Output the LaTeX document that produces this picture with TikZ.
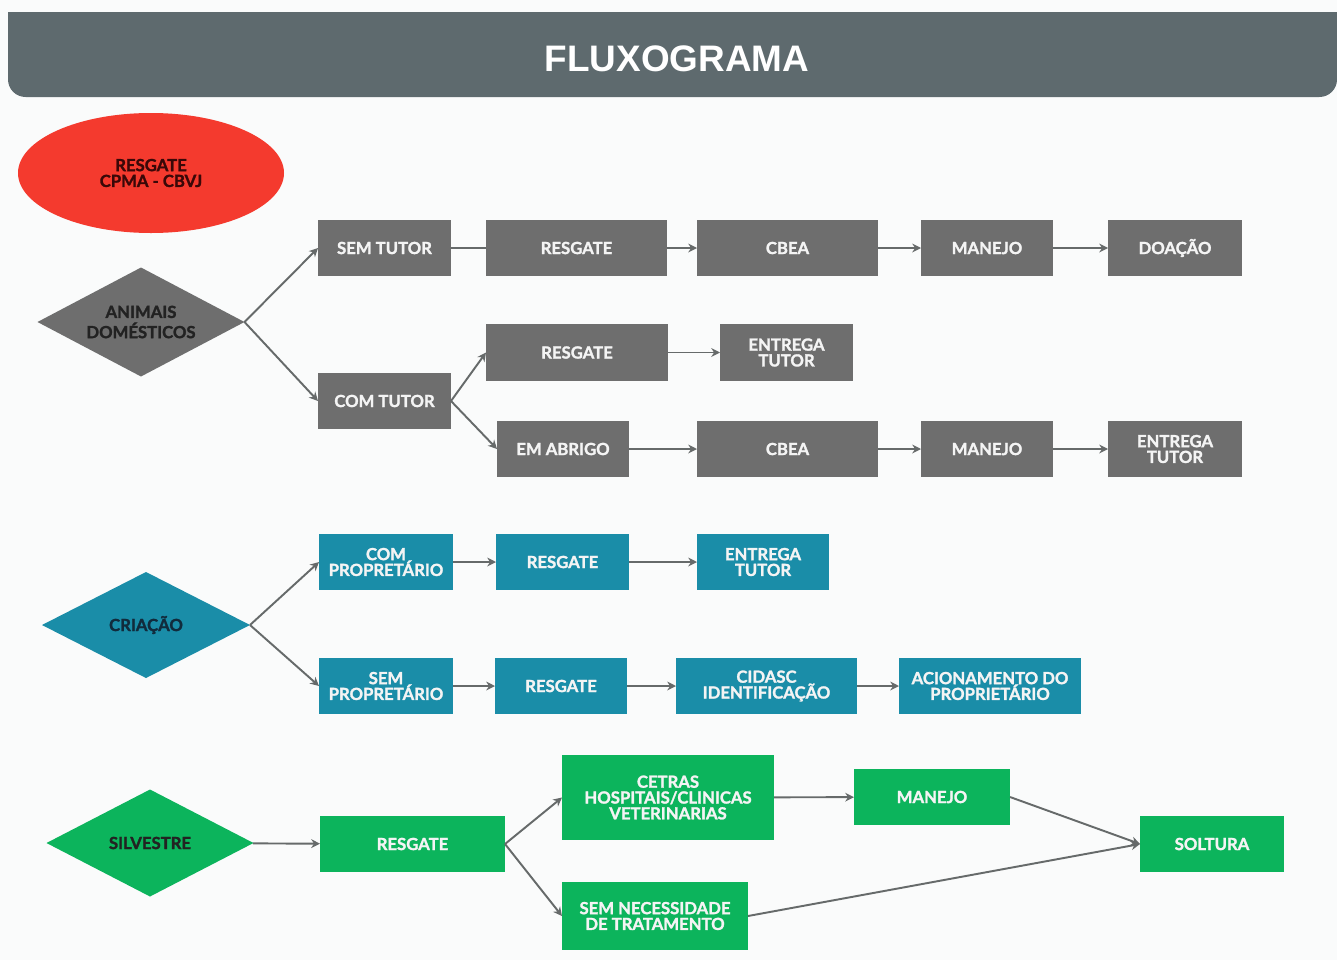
\documentclass[tikz,border=0pt]{standalone}
\usepackage{fontspec}
\setmainfont{Lato}[BoldFeatures={FakeBold=1.6}]
\newfontfamily\titlefont{Liberation Sans}
\usetikzlibrary{shapes.geometric,arrows.meta}
\definecolor{bgc}{HTML}{FAFBFB}
\definecolor{headc}{HTML}{5E6A6E}
\definecolor{greyc}{HTML}{6E6E6E}
\definecolor{tealc}{HTML}{1A8DA8}
\definecolor{greenc}{HTML}{0CB45C}
\definecolor{redc}{HTML}{F43A2E}
\definecolor{arrc}{HTML}{666A6A}
\definecolor{boxtxt}{HTML}{F4F4F4}
\definecolor{darktxt}{HTML}{222222}
\definecolor{navytxt}{HTML}{112B3C}
\definecolor{redtxt}{HTML}{3A0808}
\tikzset{
  boxst/.style={rectangle, inner sep=0pt, outer sep=0pt, align=center, text=boxtxt,
    font=\bfseries\fontsize{9.5}{9}\selectfont},
  dia/.style={diamond, aspect=2, inner sep=0pt, outer sep=0pt, align=center,
    font=\bfseries\fontsize{9.5}{11.5}\selectfont},
  arr/.style={draw=arrc, line width=1.1pt, -{Stealth[length=5pt,width=5pt]}},
  ln/.style={draw=arrc, line width=1.1pt},
}
\newcommand{\bx}[7]{\node[boxst, fill=#6, minimum width={(#4-#2)*0.02cm}, minimum height={(#5-#3)*0.02cm}] (#1) at ({(#2+#4)/2},{(#3+#5)/2}) {#7};}
\begin{document}
\begin{tikzpicture}[x=0.02cm, y=-0.02cm]
\useasboundingbox (0,0) rectangle (1337,960);
\fill[bgc] (0,0) rectangle (1337,960);
% header
\fill[headc] (8,12) -- (1337,12) {[rounded corners=10pt] -- (1337,97) -- (8,97)} -- cycle;
\node[font=\titlefont\bfseries\fontsize{21}{21}\selectfont, text=white] (title) at (677,59) {FLUXOGRAMA};
% start
\node[ellipse, fill=redc, inner sep=0pt, minimum width={266*0.02cm}, minimum height={120*0.02cm}, align=center, text=redtxt, font=\bfseries\fontsize{9.5}{9}\selectfont] (start) at (151,173) {RESGATE\\CPMA - CBVJ};
% diamonds
\node[dia, fill=greyc, text=darktxt, minimum width={207*0.02cm}, minimum height={109*0.02cm}] (dom) at (141,322) {ANIMAIS\\DOMÉSTICOS};
\node[dia, fill=tealc, text=navytxt, minimum width={208*0.02cm}, minimum height={106*0.02cm}] (cri) at (146,625) {CRIAÇÃO};
\node[dia, fill=greenc, text=darktxt, minimum width={207*0.02cm}, minimum height={107*0.02cm}] (sil) at (150,843) {SILVESTRE};
% domestic
\bx{semtutor}{318}{220}{451}{276}{greyc}{SEM TUTOR}
\bx{res1}{486}{220}{667}{276}{greyc}{RESGATE}
\bx{cbea1}{697}{220}{878}{276}{greyc}{CBEA}
\bx{man1}{921}{220}{1053}{276}{greyc}{MANEJO}
\bx{doa}{1108}{220}{1242}{276}{greyc}{DOAÇÃO}
\bx{comtutor}{318}{373}{451}{429}{greyc}{COM TUTOR}
\bx{res2}{486}{324}{668}{381}{greyc}{RESGATE}
\bx{ent1}{720}{324}{853}{381}{greyc}{ENTREGA\\TUTOR}
\bx{abrigo}{497}{421}{629}{477}{greyc}{EM ABRIGO}
\bx{cbea2}{697}{421}{878}{477}{greyc}{CBEA}
\bx{man2}{921}{421}{1053}{477}{greyc}{MANEJO}
\bx{ent2}{1108}{421}{1242}{477}{greyc}{ENTREGA\\TUTOR}
% criacao
\bx{comprop}{319}{534}{453}{590}{tealc}{COM\\PROPRETÁRIO}
\bx{res3}{496}{534}{629}{590}{tealc}{RESGATE}
\bx{ent3}{697}{534}{829}{590}{tealc}{ENTREGA\\TUTOR}
\bx{semprop}{319}{658}{453}{714}{tealc}{SEM\\PROPRETÁRIO}
\bx{res4}{495}{658}{627}{714}{tealc}{RESGATE}
\bx{cidasc}{676}{658}{857}{714}{tealc}{CIDASC\\IDENTIFICAÇÃO}
\bx{acion}{899}{658}{1081}{714}{tealc}{ACIONAMENTO DO\\PROPRIETÁRIO}
% silvestre
\bx{res5}{320}{816}{505}{872}{greenc}{RESGATE}
\bx{cetras}{562}{755}{774}{840}{greenc}{CETRAS\\HOSPITAIS/CLINICAS\\VETERINARIAS}
\bx{semnec}{562}{882}{748}{950}{greenc}{SEM NECESSIDADE\\DE TRATAMENTO}
\bx{man3}{854}{769}{1010}{825}{greenc}{MANEJO}
\bx{solt}{1140}{816}{1284}{872}{greenc}{SOLTURA}
% connectors
\draw[arr] (dom.east) -- (semtutor.west);
\draw[arr] (dom.east) -- (comtutor.west);
\draw[ln] (semtutor) -- (res1);
\draw[arr] (res1) -- (cbea1);
\draw[arr] (cbea1) -- (man1);
\draw[arr] (man1) -- (doa);
\draw[arr] (comtutor.east) -- (res2.west);
\draw[arr] (comtutor.east) -- (abrigo.west);
\draw[arr] (res2) -- (ent1);
\draw[arr] (abrigo) -- (cbea2);
\draw[arr] (cbea2) -- (man2);
\draw[arr] (man2) -- (ent2);
\draw[arr] (cri.east) -- (comprop.west);
\draw[arr] (cri.east) -- (semprop.west);
\draw[arr] (comprop) -- (res3);
\draw[arr] (res3) -- (ent3);
\draw[arr] (semprop) -- (res4);
\draw[arr] (res4) -- (cidasc);
\draw[arr] (cidasc) -- (acion);
\draw[arr] (sil) -- (res5);
\draw[arr] (res5.east) -- (cetras.west);
\draw[arr] (res5.east) -- (semnec.west);
\draw[arr] (cetras) -- (man3);
\draw[arr] (man3.east) -- (solt.west);
\draw[arr] (semnec.east) -- (solt.west);
\end{tikzpicture}
\end{document}
